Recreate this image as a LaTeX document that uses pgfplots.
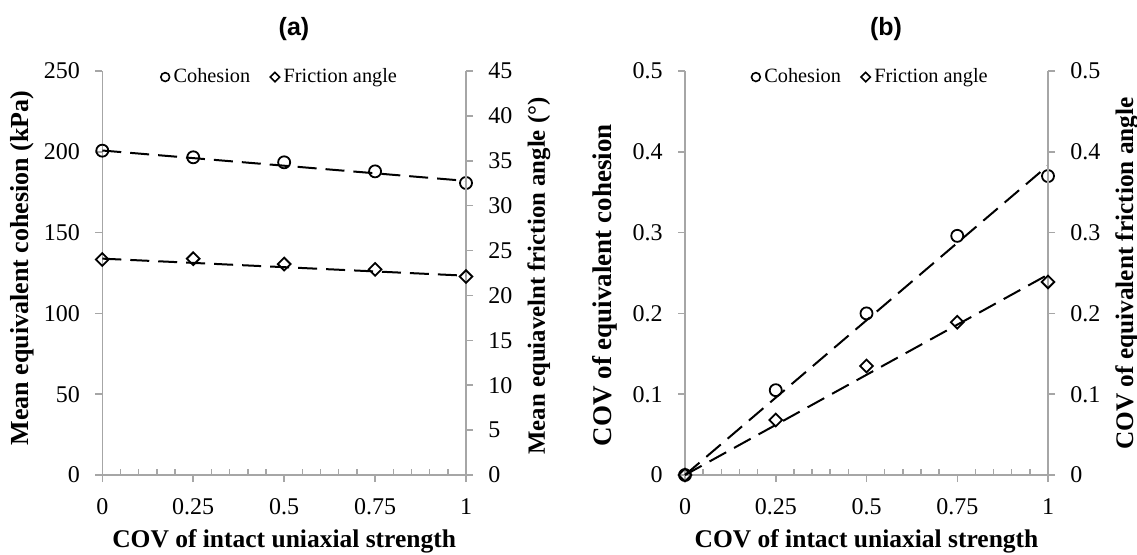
\documentclass[border=0pt]{standalone}
\usepackage{fontspec}
\setmainfont{Liberation Serif}
\newfontfamily\titlefont{Liberation Sans}
\usepackage{pgfplots}
\pgfplotsset{compat=1.18}
\definecolor{axgray}{HTML}{A6A6A6}
\newcommand{\fs}[1]{\fontsize{#1}{#1}\selectfont}
\pgfplotsset{
  base/.style={
    scale only axis, height=202pt,
    xmin=0, xmax=1, ymin=0, clip=false,
    axis line style={draw=axgray, line width=0.75pt, -},
    tick style={draw=axgray, line width=0.75pt},
    tick align=outside, major tick length=3.5pt,
    /pgf/number format/assume math mode=true,
    ticklabel style={font=\fs{12}},
  },
  leftax/.style={base,
    axis x line*=bottom, axis y line*=left,
    xtick={0,0.25,0.5,0.75,1},
    extra x ticks={0.05,0.1,0.15,0.2,0.3,0.35,0.4,0.45,0.55,0.6,0.65,0.7,0.8,0.85,0.9,0.95},
    extra x tick labels={},
    extra x tick style={tick align=inside, major tick length=3pt},
    xticklabel style={anchor=center, yshift=-12.5pt, inner sep=0pt},
    yticklabel style={anchor=east, xshift=-7.5pt, inner sep=0pt},
    every axis x label/.style={at={(axis description cs:0.5,-0.165)}, anchor=center, font=\fs{12.75}\bfseries},
  },
  rightax/.style={base,
    axis x line=none, axis y line*=right, xtick=\empty,
    yticklabel style={anchor=west, xshift=7.5pt, inner sep=0pt},
    legend style={draw=none, fill=none, anchor=center, font=\fs{10.15},
      legend columns=2, inner sep=0pt,
      /tikz/every even column/.append style={column sep=8pt}},
    legend image code/.code={\draw[##1] plot coordinates {(0pt,0pt)};},
  },
  trend/.style={black, line width=1pt, dash pattern=on 9.5pt off 4.5pt, forget plot},
  cmark/.style={black, only marks, mark=o, mark size=3pt, line width=0.9pt, forget plot},
  dmark/.style={black, only marks, mark=square, mark size=2.25pt, mark options={rotate=45}, line width=0.9pt, forget plot},
}
\begin{document}
\begin{tikzpicture}
% ---------------- panel (a) ----------------
\begin{axis}[leftax, at={(51.15pt,39.5pt)}, anchor=south west, width=181.85pt,
  ymax=250, ytick={0,50,...,250},
  xlabel={COV of intact uniaxial strength},
  every axis y label/.style={at={(axis description cs:-0.2208,0.512)}, rotate=90, anchor=center, font=\fs{13}\bfseries},
  ylabel={Mean equivalent cohesion (kPa)},
  title={(a)},
  every axis title/.style={at={(axis description cs:0.527,1.104)}, anchor=center, font=\titlefont\bfseries\fs{12.5}},
]
\addplot[trend] coordinates {(0,200.8) (1,182.0)};
\addplot[cmark] coordinates {(0,200.7) (0.25,196.6) (0.5,193.5) (0.75,187.9) (1,180.7)};
\end{axis}
\begin{axis}[rightax, at={(51.15pt,39.5pt)}, anchor=south west, width=181.85pt,
  ymax=45, ytick={0,5,...,45},
  every axis y label/.style={at={(axis description cs:1.2007,0.4926)}, rotate=90, anchor=center, font=\fs{12.4}\bfseries},
  ylabel={Mean equiavelnt friction angle (°)},
  legend style={at={(axis description cs:0.491,0.985)}},
]
\addlegendimage{black, only marks, mark=o, mark size=2.2pt, line width=0.8pt}
\addlegendentry{Cohesion}
\addlegendimage{black, only marks, mark=square, mark size=1.65pt, mark options={rotate=45}, line width=0.8pt}
\addlegendentry{Friction angle}
\addplot[trend] coordinates {(0,24.1) (1,22.2)};
\addplot[dmark] coordinates {(0,24.0) (0.25,24.1) (0.5,23.5) (0.75,22.9) (1,22.1)};
\end{axis}
% ---------------- panel (b) ----------------
\begin{axis}[leftax, at={(342.5pt,39.5pt)}, anchor=south west, width=181.5pt,
  ymax=0.5, ytick={0,0.1,...,0.5},
  xlabel={COV of intact uniaxial strength},
  every axis y label/.style={at={(axis description cs:-0.2204,0.470)}, rotate=90, anchor=center, font=\fs{13.5}\bfseries},
  ylabel={COV of equivalent cohesion},
  title={(b)},
  every axis title/.style={at={(axis description cs:0.554,1.104)}, anchor=center, font=\titlefont\bfseries\fs{12.5}},
]
\addplot[trend] coordinates {(0,0) (1,0.383)};
\addplot[cmark] coordinates {(0,0) (0.25,0.105) (0.5,0.2) (0.75,0.296) (1,0.37)};
\end{axis}
\begin{axis}[rightax, at={(342.5pt,39.5pt)}, anchor=south west, width=181.5pt,
  ymax=0.5, ytick={0,0.1,...,0.5},
  every axis y label/.style={at={(axis description cs:1.2175,0.4988)}, rotate=90, anchor=center, font=\fs{12.65}\bfseries},
  ylabel={COV of equivalent friction angle},
  legend style={at={(axis description cs:0.514,0.985)}},
]
\addlegendimage{black, only marks, mark=o, mark size=2.2pt, line width=0.8pt}
\addlegendentry{Cohesion}
\addlegendimage{black, only marks, mark=square, mark size=1.65pt, mark options={rotate=45}, line width=0.8pt}
\addlegendentry{Friction angle}
\addplot[trend] coordinates {(0,0) (1,0.248)};
\addplot[dmark] coordinates {(0,0) (0.25,0.068) (0.5,0.135) (0.75,0.189) (1,0.239)};
\end{axis}
\pgfresetboundingbox
\path[use as bounding box] (0,0) rectangle (568.5pt,277pt);
\end{tikzpicture}
\end{document}
